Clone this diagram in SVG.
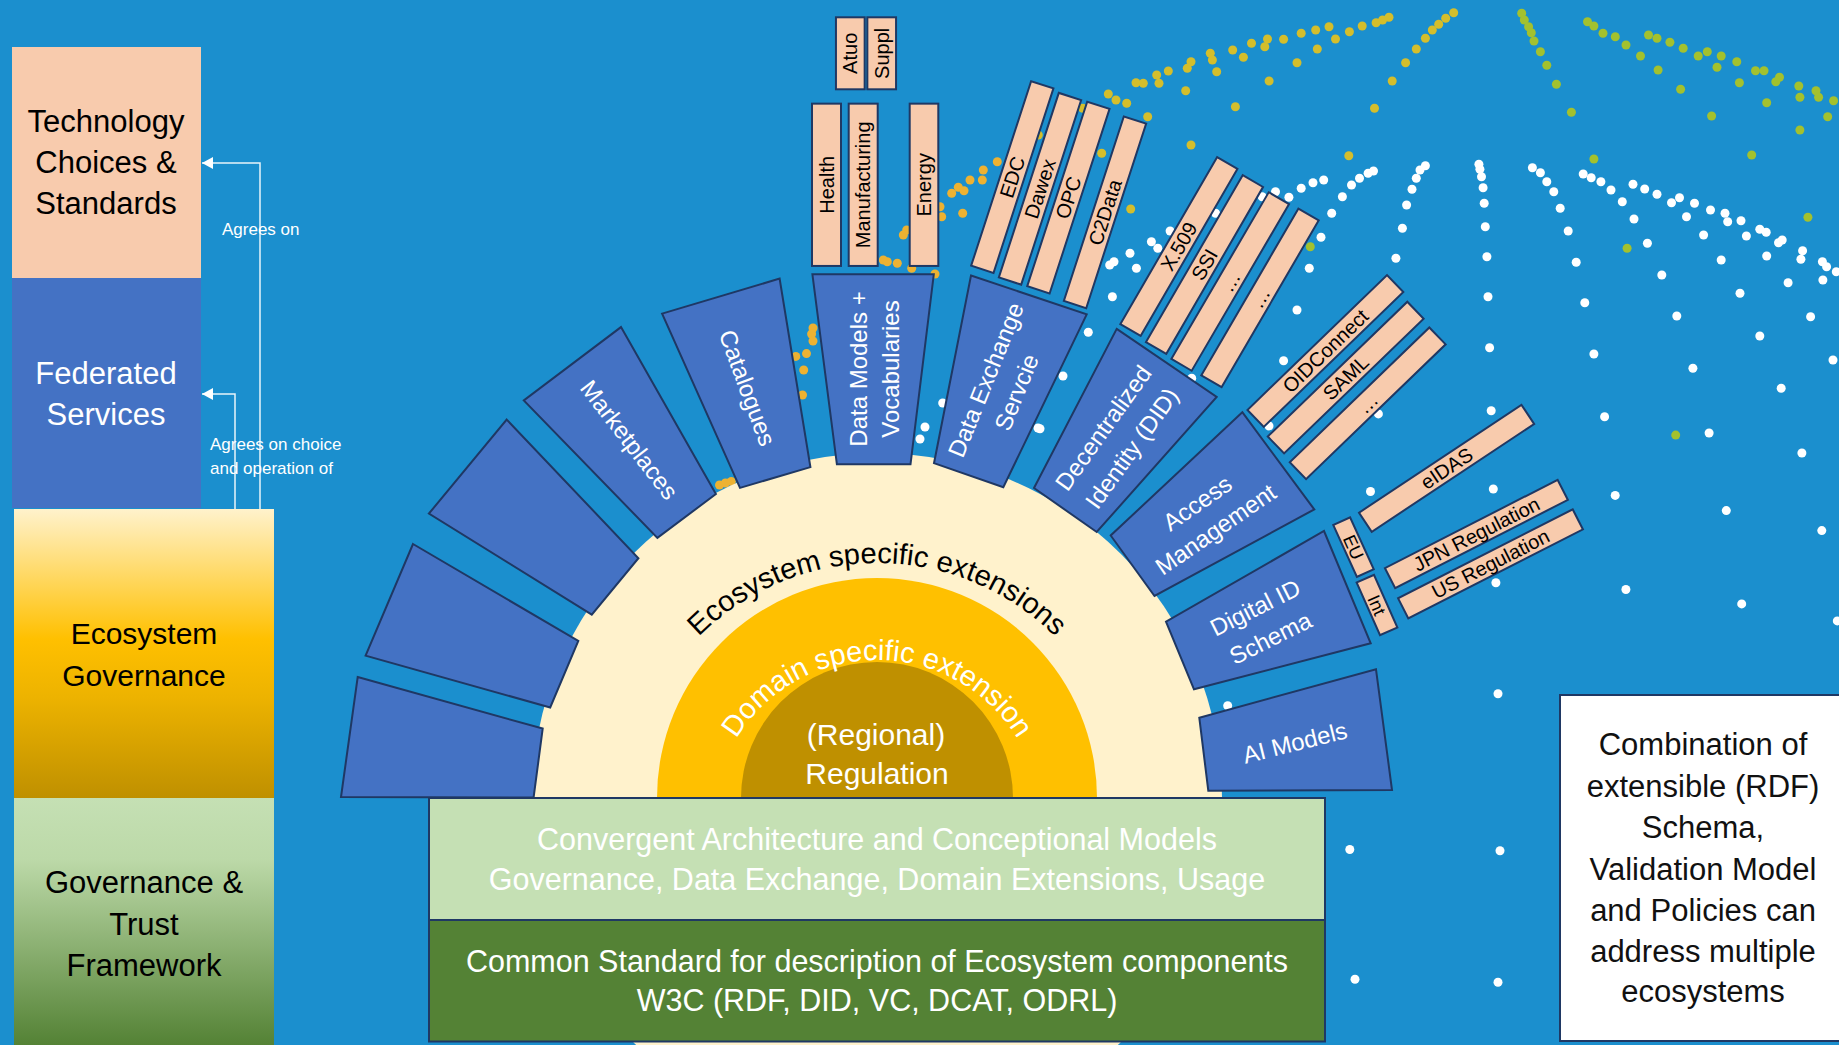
<svg xmlns="http://www.w3.org/2000/svg" width="1839" height="1045" viewBox="0 0 1839 1045">
<defs>
<style>
text{font-family:"Liberation Sans",Arial,sans-serif}
.blue{fill:#4472C4;stroke:#1F3864;stroke-width:2}
.peach{fill:#F8CBAD;stroke:#1F3864;stroke-width:2}
.pl{font-size:20px;fill:#000;text-anchor:middle}
.bl{font-size:24px;fill:#fff;text-anchor:middle}
.big{font-size:30px;text-anchor:middle}
.ann{font-size:17px;fill:#fff}
.conn{fill:none;stroke:#fff;stroke-opacity:0.9;stroke-width:1.5}
.dO{fill:#EDB232}
.dY{fill:#D4BE2C}
.dG{fill:#A3C12E}
.dW{fill:#fff}
</style>
<linearGradient id="gEco" x1="0" y1="0" x2="0" y2="1">
<stop offset="0" stop-color="#FFF2CC"/>
<stop offset="0.45" stop-color="#FFC000"/>
<stop offset="0.65" stop-color="#EDB300"/>
<stop offset="1" stop-color="#BF9000"/>
</linearGradient>
<linearGradient id="gGov" x1="0" y1="0" x2="0" y2="1">
<stop offset="0" stop-color="#C5E0B4"/>
<stop offset="0.25" stop-color="#BCD9A8"/>
<stop offset="1" stop-color="#548235"/>
</linearGradient>
<marker id="ah" viewBox="0 0 11 12" refX="11" refY="6" markerWidth="11" markerHeight="12" markerUnits="userSpaceOnUse" orient="auto">
<path d="M0,0 L11,6 L0,12 z" fill="#fff"/>
</marker>
<path id="arcEco" d="M625,815 A252,252 0 0 1 1129,815" fill="none"/>
<path id="arcDom" d="M712,825 A165,165 0 0 1 1042,825" fill="none"/>
</defs>

<rect x="0" y="0" width="1839" height="1045" fill="#1B8FCE"/>

<g id="dots">
<g class="dO">
<circle cx="813" cy="328" r="4.5"/><circle cx="811.6" cy="334" r="4.5"/><circle cx="813" cy="341" r="4.5"/><circle cx="795.8" cy="356.4" r="4.5"/><circle cx="806.5" cy="353.6" r="4.5"/><circle cx="803.7" cy="370" r="4.5"/><circle cx="802.5" cy="395" r="4.5"/><circle cx="719.5" cy="485" r="4.5"/><circle cx="725.4" cy="483" r="4.5"/><circle cx="731.3" cy="481.4" r="4.5"/><circle cx="883.3" cy="260" r="4.5"/><circle cx="887.3" cy="261.7" r="4.5"/><circle cx="897.3" cy="263.3" r="4.5"/><circle cx="911.7" cy="268.3" r="4.5"/><circle cx="935" cy="274" r="4.5"/><circle cx="903.3" cy="235" r="4.5"/><circle cx="906.7" cy="230" r="4.5"/><circle cx="941.7" cy="216.7" r="4.5"/><circle cx="962.7" cy="213.3" r="4.5"/><circle cx="951.7" cy="193.3" r="4.5"/><circle cx="958.3" cy="187.3" r="4.5"/><circle cx="964" cy="190.7" r="4.5"/><circle cx="970" cy="180" r="4.5"/><circle cx="982.3" cy="180" r="4.5"/><circle cx="983.3" cy="170" r="4.5"/><circle cx="997.3" cy="161.7" r="4.5"/><circle cx="940" cy="206.7" r="4.5"/>
</g>
<g class="dY">
<circle cx="1038.3" cy="135" r="4.5"/><circle cx="1082.7" cy="108.3" r="4.5"/><circle cx="1101.7" cy="153.3" r="4.5"/><circle cx="1108.3" cy="94" r="4.5"/><circle cx="1116" cy="100" r="4.5"/><circle cx="1126.7" cy="103.3" r="4.5"/><circle cx="1136" cy="82.7" r="4.5"/><circle cx="1143.3" cy="83.3" r="4.5"/><circle cx="1156.7" cy="75" r="4.5"/><circle cx="1159" cy="83.3" r="4.5"/><circle cx="1168.3" cy="71" r="4.5"/><circle cx="1147.7" cy="116.7" r="4.5"/><circle cx="1130.7" cy="209" r="4.5"/><circle cx="1185.7" cy="90.7" r="4.5"/><circle cx="1187.3" cy="68.3" r="4.5"/><circle cx="1191" cy="61.7" r="4.5"/><circle cx="1191" cy="145" r="4.5"/><circle cx="1210.3" cy="53.3" r="4.5"/><circle cx="1212.4" cy="60" r="4.5"/><circle cx="1216.7" cy="71.7" r="4.5"/><circle cx="1232.7" cy="50" r="4.5"/><circle cx="1235.4" cy="106.7" r="4.5"/><circle cx="1243.4" cy="57.3" r="4.5"/><circle cx="1251.5" cy="43.3" r="4.5"/><circle cx="1264.8" cy="46.7" r="4.5"/><circle cx="1267.5" cy="39" r="4.5"/><circle cx="1269.1" cy="81" r="4.5"/><circle cx="1283.6" cy="39.3" r="4.5"/><circle cx="1297" cy="62.7" r="4.5"/><circle cx="1301.2" cy="33.3" r="4.5"/><circle cx="1315.7" cy="30" r="4.5"/><circle cx="1317.3" cy="49" r="4.5"/><circle cx="1329" cy="26.7" r="4.5"/><circle cx="1335.5" cy="39" r="4.5"/><circle cx="1349.4" cy="31.7" r="4.5"/><circle cx="1348.8" cy="155.7" r="4.5"/><circle cx="1362.2" cy="26" r="4.5"/><circle cx="1374.5" cy="108.3" r="4.5"/><circle cx="1376.1" cy="22.7" r="4.5"/><circle cx="1382.6" cy="20" r="4.5"/><circle cx="1389" cy="17.3" r="4.5"/><circle cx="1392.2" cy="81" r="4.5"/><circle cx="1405.6" cy="62.7" r="4.5"/><circle cx="1416.3" cy="49" r="4.5"/><circle cx="1425.4" cy="38.3" r="4.5"/><circle cx="1432.3" cy="30" r="4.5"/><circle cx="1438.7" cy="24.3" r="4.5"/><circle cx="1445.7" cy="18.3" r="4.5"/><circle cx="1453.7" cy="12.7" r="4.5"/>
</g>
<g class="dG">
<circle cx="1521.7" cy="13.3" r="4.5"/><circle cx="1524.3" cy="20" r="4.5"/><circle cx="1528.6" cy="26.7" r="4.5"/><circle cx="1531.3" cy="32.7" r="4.5"/><circle cx="1534" cy="41" r="4.5"/><circle cx="1540.4" cy="51.7" r="4.5"/><circle cx="1546.8" cy="65.3" r="4.5"/><circle cx="1556.4" cy="84.3" r="4.5"/><circle cx="1571.4" cy="112.3" r="4.5"/><circle cx="1593.9" cy="159" r="4.5"/><circle cx="1587.5" cy="21.7" r="4.5"/><circle cx="1593.9" cy="26" r="4.5"/><circle cx="1603" cy="33.3" r="4.5"/><circle cx="1615.3" cy="36.7" r="4.5"/><circle cx="1626" cy="45" r="4.5"/><circle cx="1640.5" cy="56" r="4.5"/><circle cx="1648.5" cy="35" r="4.5"/><circle cx="1657" cy="38.3" r="4.5"/><circle cx="1658.1" cy="70" r="4.5"/><circle cx="1669.9" cy="42.3" r="4.5"/><circle cx="1680.6" cy="89.3" r="4.5"/><circle cx="1683.2" cy="48.3" r="4.5"/><circle cx="1698.2" cy="56" r="4.5"/><circle cx="1707.3" cy="51.7" r="4.5"/><circle cx="1711.6" cy="116" r="4.5"/><circle cx="1717" cy="67.3" r="4.5"/><circle cx="1721.2" cy="56" r="4.5"/><circle cx="1736.8" cy="61.7" r="4.5"/><circle cx="1739.4" cy="82.7" r="4.5"/><circle cx="1751.7" cy="155" r="4.5"/><circle cx="1755.5" cy="70.7" r="4.5"/><circle cx="1764" cy="70.7" r="4.5"/><circle cx="1766.7" cy="102.7" r="4.5"/><circle cx="1775.8" cy="81.7" r="4.5"/><circle cx="1779.5" cy="77.3" r="4.5"/><circle cx="1798.8" cy="86" r="4.5"/><circle cx="1799.9" cy="97.3" r="4.5"/><circle cx="1799.9" cy="130" r="4.5"/><circle cx="1807.9" cy="217.3" r="4.5"/><circle cx="1816" cy="90.7" r="4.5"/><circle cx="1818.6" cy="97.3" r="4.5"/><circle cx="1827.7" cy="116.7" r="4.5"/><circle cx="1833.6" cy="100.7" r="4.5"/><circle cx="1627.1" cy="248.3" r="4.5"/><circle cx="1310.3" cy="246.7" r="4.5"/><circle cx="1675.7" cy="435.1" r="4.5"/>
</g>
<g class="dW">
<circle cx="1063" cy="376" r="4.5"/><circle cx="1040" cy="428.7" r="4.5"/><circle cx="1088.3" cy="332.3" r="4.5"/><circle cx="1112.4" cy="296.7" r="4.5"/><circle cx="1109.7" cy="265" r="4.5"/><circle cx="1114" cy="261.7" r="4.5"/><circle cx="1130" cy="253.3" r="4.5"/><circle cx="1136.4" cy="268.3" r="4.5"/><circle cx="1151.4" cy="241.7" r="4.5"/><circle cx="1157.8" cy="248.3" r="4.5"/><circle cx="1170.1" cy="231" r="4.5"/><circle cx="1215.6" cy="213.3" r="4.5"/><circle cx="1262.2" cy="196.7" r="4.5"/><circle cx="1275.5" cy="191.7" r="4.5"/><circle cx="1288.9" cy="197.3" r="4.5"/><circle cx="1301.2" cy="188.3" r="4.5"/><circle cx="1313" cy="182.7" r="4.5"/><circle cx="1323.7" cy="180" r="4.5"/><circle cx="1331.7" cy="213.3" r="4.5"/><circle cx="1342.4" cy="196.7" r="4.5"/><circle cx="1351.5" cy="185" r="4.5"/><circle cx="1359.5" cy="178.3" r="4.5"/><circle cx="1368.1" cy="173.3" r="4.5"/><circle cx="1373.5" cy="171" r="4.5"/><circle cx="1321" cy="237.3" r="4.5"/><circle cx="1309.3" cy="268.3" r="4.5"/><circle cx="1297" cy="310" r="4.5"/><circle cx="1283.6" cy="360.7" r="4.5"/><circle cx="1269" cy="426" r="4.5"/><circle cx="1416.3" cy="178.3" r="4.5"/><circle cx="1420" cy="170" r="4.5"/><circle cx="1425.4" cy="165.7" r="4.5"/><circle cx="1412" cy="189.3" r="4.5"/><circle cx="1406.6" cy="205" r="4.5"/><circle cx="1402.4" cy="228.3" r="4.5"/><circle cx="1395.9" cy="258.3" r="4.5"/><circle cx="1478.9" cy="164.3" r="4.5"/><circle cx="1479.9" cy="169.3" r="4.5"/><circle cx="1481.5" cy="176.7" r="4.5"/><circle cx="1483.1" cy="187.7" r="4.5"/><circle cx="1484.2" cy="203.3" r="4.5"/><circle cx="1485.3" cy="226.7" r="4.5"/><circle cx="1486.9" cy="256.7" r="4.5"/><circle cx="1488" cy="296.7" r="4.5"/><circle cx="1489.6" cy="347.7" r="4.5"/><circle cx="1491.2" cy="410.7" r="4.5"/><circle cx="1493.3" cy="489" r="4.5"/><circle cx="1495.9" cy="582.7" r="4.5"/><circle cx="1498" cy="693.8" r="4.5"/><circle cx="1500" cy="850.7" r="4.5"/><circle cx="1498" cy="982.2" r="4.5"/><circle cx="1532.4" cy="167.7" r="4.5"/><circle cx="1540.4" cy="172.7" r="4.5"/><circle cx="1546.8" cy="181.7" r="4.5"/><circle cx="1553.8" cy="191.7" r="4.5"/><circle cx="1560.2" cy="208.3" r="4.5"/><circle cx="1568.2" cy="231" r="4.5"/><circle cx="1576.2" cy="262.3" r="4.5"/><circle cx="1584.8" cy="302.7" r="4.5"/><circle cx="1593.9" cy="354" r="4.5"/><circle cx="1604.6" cy="416.7" r="4.5"/><circle cx="1615.2" cy="495.4" r="4.5"/><circle cx="1625.9" cy="589.5" r="4.5"/><circle cx="1583.2" cy="174" r="4.5"/><circle cx="1591.2" cy="177.7" r="4.5"/><circle cx="1600.9" cy="181.7" r="4.5"/><circle cx="1611" cy="190" r="4.5"/><circle cx="1622.3" cy="201.7" r="4.5"/><circle cx="1634" cy="219" r="4.5"/><circle cx="1647.4" cy="243.3" r="4.5"/><circle cx="1661.8" cy="275" r="4.5"/><circle cx="1676.8" cy="316" r="4.5"/><circle cx="1692.9" cy="368.3" r="4.5"/><circle cx="1709.1" cy="433" r="4.5"/><circle cx="1726.3" cy="510.6" r="4.5"/><circle cx="1741.7" cy="603.9" r="4.5"/><circle cx="1633" cy="184.3" r="4.5"/><circle cx="1644.7" cy="189" r="4.5"/><circle cx="1657" cy="194.3" r="4.5"/><circle cx="1671.5" cy="202.7" r="4.5"/><circle cx="1679.5" cy="197.7" r="4.5"/><circle cx="1694.5" cy="203.3" r="4.5"/><circle cx="1686.5" cy="216.7" r="4.5"/><circle cx="1703.6" cy="235" r="4.5"/><circle cx="1721.2" cy="260" r="4.5"/><circle cx="1740" cy="293.3" r="4.5"/><circle cx="1759.8" cy="336" r="4.5"/><circle cx="1781.2" cy="388.3" r="4.5"/><circle cx="1801.9" cy="453" r="4.5"/><circle cx="1821.8" cy="530.6" r="4.5"/><circle cx="1837.3" cy="620.9" r="4.5"/><circle cx="1710.5" cy="210" r="4.5"/><circle cx="1725" cy="213.3" r="4.5"/><circle cx="1727.7" cy="221.7" r="4.5"/><circle cx="1741" cy="220.7" r="4.5"/><circle cx="1746.4" cy="236" r="4.5"/><circle cx="1759.8" cy="229.3" r="4.5"/><circle cx="1766.2" cy="232.3" r="4.5"/><circle cx="1778.5" cy="242.7" r="4.5"/><circle cx="1782.2" cy="240" r="4.5"/><circle cx="1766.7" cy="256" r="4.5"/><circle cx="1788.1" cy="282.7" r="4.5"/><circle cx="1802.6" cy="250.7" r="4.5"/><circle cx="1800.9" cy="259.3" r="4.5"/><circle cx="1810.6" cy="316.7" r="4.5"/><circle cx="1822.4" cy="261.7" r="4.5"/><circle cx="1826.6" cy="266.7" r="4.5"/><circle cx="1822.9" cy="280" r="4.5"/><circle cx="1833" cy="360" r="4.5"/><circle cx="1836.3" cy="271.7" r="4.5"/><circle cx="1378.4" cy="413.9" r="4.5"/><circle cx="1370.5" cy="491.5" r="4.5"/><circle cx="1349.8" cy="849.5" r="4.5"/><circle cx="1355" cy="979.2" r="4.5"/><circle cx="1227.7" cy="705.7" r="4.5"/><circle cx="1191.7" cy="378.3" r="4.5"/><circle cx="920" cy="439" r="4.5"/><circle cx="925" cy="427" r="4.5"/><circle cx="942.7" cy="403" r="4.5"/><circle cx="1038" cy="428" r="4.5"/>
</g>
</g>

<g id="rings">
<circle cx="877" cy="798" r="345" fill="#FFF2CC"/>
<circle cx="877" cy="798" r="220" fill="#FFC000"/>
<circle cx="877" cy="798" r="136" fill="#BF9000"/>
<text font-size="29.2" fill="#000"><textPath href="#arcEco" startOffset="50%" text-anchor="middle">Ecosystem specific extensions</textPath></text>
<text font-size="29" fill="#fff"><textPath href="#arcDom" startOffset="50%" text-anchor="middle">Domain specific extension</textPath></text>
<text class="big" fill="#fff"><tspan x="876" y="745">(Regional)</tspan><tspan x="877" y="784">Regulation</tspan></text>
</g>

<g id="blue-boxes">
<g id="box-1"><polygon class="blue" points="357.7,677 542.7,728.6 533.6,797.5 341,797"/></g>
<g id="box-2"><polygon class="blue" points="413,544 578.3,641 550.2,707.5 365.6,655.7"/></g>
<g id="box-3"><polygon class="blue" points="506.7,419.6 638.4,558.2 591.8,614.6 428.9,513.6"/></g>
<g id="marketplaces"><polygon class="blue" points="621,327.1 715.9,494 657.4,537.9 523.8,400.4"/>
<text class="bl" transform="translate(629,440) rotate(52.4)" y="8">Marketplaces</text></g>
<g id="catalogues"><polygon class="blue" points="662.1,313.6 779.6,278.6 810.4,467.1 740,487.9"/>
<text class="bl" transform="translate(747,388) rotate(69.7)" y="8">Catalogues</text></g>
<g id="data-models"><polygon class="blue" points="812.4,274.3 933.8,274.3 910.5,464.3 836.9,464.3"/>
<text class="bl" transform="translate(874,369) rotate(-90)"><tspan x="0" y="-7">Data Models +</tspan><tspan x="0" y="25">Vocabularies</tspan></text></g>
<g id="data-exchange"><polygon class="blue" points="971,275.5 1086.7,314.4 1003.3,487.3 934,463.2"/>
<text class="bl" transform="translate(1001,386) rotate(-68)"><tspan x="0" y="-8">Data Exchange</tspan><tspan x="0" y="25">Servcie</tspan></text></g>
<g id="did"><polygon class="blue" points="1116.7,328.9 1216.7,397 1096.7,532 1034,488"/>
<text class="bl" transform="translate(1117.5,438) rotate(-54.5)"><tspan x="0" y="-9">Decentralized</tspan><tspan x="0" y="26">Identity (DID)</tspan></text></g>
<g id="access"><polygon class="blue" points="1242.3,412.2 1314.3,509.5 1154.5,596 1110.7,535.5"/>
<text class="bl" transform="translate(1206.7,516.5) rotate(-34.7)"><tspan x="0" y="-8">Access</tspan><tspan x="0" y="24">Management</tspan></text></g>
<g id="digital-id"><polygon class="blue" points="1324,531 1370.7,643.3 1194,689.3 1166,621.7"/>
<text class="bl" transform="translate(1263,623.3) rotate(-26.6)"><tspan x="0" y="-9">Digital ID</tspan><tspan x="0" y="25">Schema</tspan></text></g>
<g id="ai-models"><polygon class="blue" points="1376,669.3 1392,790 1208.3,790.7 1199.3,717.7"/>
<text class="bl" transform="translate(1295,743) rotate(-14)" y="8">AI Models</text></g>
</g>

<g id="peach-strips">
<g id="s-atuo" transform="translate(850.3,53.3)"><rect class="peach" x="-14.35" y="-36" width="28.7" height="72"/><text class="pl" transform="rotate(-90)" y="7">Atuo</text></g>
<g id="s-suppl" transform="translate(881.7,53.3)"><rect class="peach" x="-14.35" y="-36" width="28.7" height="72"/><text class="pl" transform="rotate(-90)" y="7">Suppl</text></g>
<g id="s-health" transform="translate(826.5,184.8)"><rect class="peach" x="-14.5" y="-81.15" width="29" height="162.3"/><text class="pl" transform="rotate(-90)" y="7">Health</text></g>
<g id="s-manufacturing" transform="translate(863.2,184.8)"><rect class="peach" x="-14.5" y="-81.15" width="29" height="162.3"/><text class="pl" transform="rotate(-90)" y="7">Manufacturing</text></g>
<g id="s-energy" transform="translate(924,184.8)"><rect class="peach" x="-14.3" y="-81.15" width="28.6" height="162.3"/><text class="pl" transform="rotate(-90)" y="7">Energy</text></g>
<g id="s-edc" transform="translate(1012.3,177.1) rotate(18)"><rect class="peach" x="-11.75" y="-97" width="23.5" height="194"/><text class="pl" transform="rotate(-90)" y="7">EDC</text></g>
<g id="s-dawex" transform="translate(1040,188.75) rotate(18)"><rect class="peach" x="-11.75" y="-97" width="23.5" height="194"/><text class="pl" transform="rotate(-90)" y="7">Dawex</text></g>
<g id="s-opc" transform="translate(1068.4,197.6) rotate(18)"><rect class="peach" x="-11.75" y="-97" width="23.5" height="194"/><text class="pl" transform="rotate(-90)" y="7">OPC</text></g>
<g id="s-c2data" transform="translate(1105,212.3) rotate(18)"><rect class="peach" x="-11.75" y="-97" width="23.5" height="194"/><text class="pl" transform="rotate(-90)" y="7">C2Data</text></g>
<g id="s-x509" transform="translate(1178.9,246.5) rotate(30.1)"><rect class="peach" x="-11.75" y="-96.5" width="23.5" height="193"/><text class="pl" transform="rotate(-90)" y="7">X.509</text></g>
<g id="s-ssi" transform="translate(1204.5,264.6) rotate(30.1)"><rect class="peach" x="-11.75" y="-96.5" width="23.5" height="193"/><text class="pl" transform="rotate(-90)" y="7">SSI</text></g>
<g id="s-id-more1" transform="translate(1230.2,281.5) rotate(30.3)"><rect class="peach" x="-11.75" y="-96.5" width="23.5" height="193"/><text class="pl" transform="rotate(-90)" y="7">…</text></g>
<g id="s-id-more2" transform="translate(1260,297.9) rotate(30.2)"><rect class="peach" x="-11.75" y="-96.5" width="23.5" height="193"/><text class="pl" transform="rotate(-90)" y="7">…</text></g>
<g id="s-oidconnect" transform="translate(1325.4,351) rotate(46)"><rect class="peach" x="-11.75" y="-97" width="23.5" height="194"/><text class="pl" transform="rotate(-90)" y="7">OIDConnect</text></g>
<g id="s-saml" transform="translate(1345.7,377.6) rotate(46)"><rect class="peach" x="-11.75" y="-97" width="23.5" height="194"/><text class="pl" transform="rotate(-90)" y="7">SAML</text></g>
<g id="s-am-more" transform="translate(1367.7,403.3) rotate(46)"><rect class="peach" x="-11.75" y="-97" width="23.5" height="194"/><text class="pl" transform="rotate(-90)" y="7">…</text></g>
<g id="s-eidas" transform="translate(1446.6,468.3) rotate(56.4)"><rect class="peach" x="-11.5" y="-97.5" width="23" height="195"/><text class="pl" transform="rotate(-90)" y="7">eIDAS</text></g>
<g id="s-jpn" transform="translate(1476.4,534) rotate(62.9)"><rect class="peach" x="-11.25" y="-97" width="22.5" height="194"/><text class="pl" transform="rotate(-90)" y="7">JPN Regulation</text></g>
<g id="s-us" transform="translate(1490.5,563.8) rotate(63)"><rect class="peach" x="-11.25" y="-98" width="22.5" height="196"/><text class="pl" transform="rotate(-90)" y="7">US Regulation</text></g>
<g id="s-eu" transform="translate(1353.5,547.1) rotate(-24.5)"><rect class="peach" x="-9.25" y="-28.5" width="18.5" height="57"/><text class="pl" style="font-size:18px" transform="rotate(90)" y="6.5">EU</text></g>
<g id="s-int" transform="translate(1377,605) rotate(-24)"><rect class="peach" x="-9.5" y="-28.75" width="19" height="57.5"/><text class="pl" style="font-size:18px" transform="rotate(90)" y="6.5">Int</text></g>
</g>

<g id="foundation">
<g id="convergent"><rect x="429" y="798" width="896" height="122" fill="#C5E0B4" stroke="#1F3864" stroke-width="2"/>
<text class="big" fill="#fff" style="font-size:30.5px"><tspan x="877" y="850">Convergent Architecture and Conceptional Models</tspan><tspan x="877" y="890">Governance, Data Exchange, Domain Extensions, Usage</tspan></text></g>
<g id="common-standard"><rect x="429" y="920" width="896" height="121.5" fill="#548235" stroke="#1F3864" stroke-width="2"/>
<text class="big" fill="#fff" style="font-size:30.5px"><tspan x="877" y="972">Common Standard for description of Ecosystem components</tspan><tspan x="877" y="1011">W3C (RDF, DID, VC, DCAT, ODRL)</tspan></text></g>
</g>

<g id="left-column">
<g id="technology"><rect x="12" y="47" width="189" height="231" fill="#F8CBAD"/>
<text class="big" fill="#000" style="font-size:31px"><tspan x="106" y="132">Technology</tspan><tspan x="106" y="173">Choices &amp;</tspan><tspan x="106" y="214">Standards</tspan></text></g>
<g id="federated"><rect x="12" y="278" width="189" height="230" fill="#4472C4"/>
<text class="big" fill="#fff" style="font-size:31px"><tspan x="106" y="384">Federated</tspan><tspan x="106" y="425">Services</tspan></text></g>
<g id="eco-governance"><rect x="14" y="509" width="260" height="289" fill="url(#gEco)"/>
<text class="big" fill="#000"><tspan x="144" y="644">Ecosystem</tspan><tspan x="144" y="686">Governance</tspan></text></g>
<g id="gov-trust"><rect x="14" y="798" width="260" height="247" fill="url(#gGov)"/>
<text class="big" fill="#000" style="font-size:31px"><tspan x="144" y="893">Governance &amp;</tspan><tspan x="144" y="935">Trust</tspan><tspan x="144" y="976">Framework</tspan></text></g>
</g>

<g id="connectors">
<path class="conn" d="M260,509 V163 H202" marker-end="url(#ah)"/>
<path class="conn" d="M235,509 V394 H202" marker-end="url(#ah)"/>
<text class="ann" x="222" y="235">Agrees on</text>
<text class="ann"><tspan x="210" y="450">Agrees on choice</tspan><tspan x="210" y="474">and operation of</tspan></text>
</g>

<g id="note">
<rect x="1560" y="695" width="290" height="346" fill="#fff" stroke="#1F3864" stroke-width="2"/>
<text style="font-size:31px;text-anchor:middle" fill="#111"><tspan x="1703" y="755">Combination of</tspan><tspan x="1703" y="797">extensible (RDF)</tspan><tspan x="1703" y="838">Schema,</tspan><tspan x="1703" y="880">Validation Model</tspan><tspan x="1703" y="921">and Policies can</tspan><tspan x="1703" y="962">address multiple</tspan><tspan x="1703" y="1002">ecosystems</tspan></text>
</g>
</svg>
